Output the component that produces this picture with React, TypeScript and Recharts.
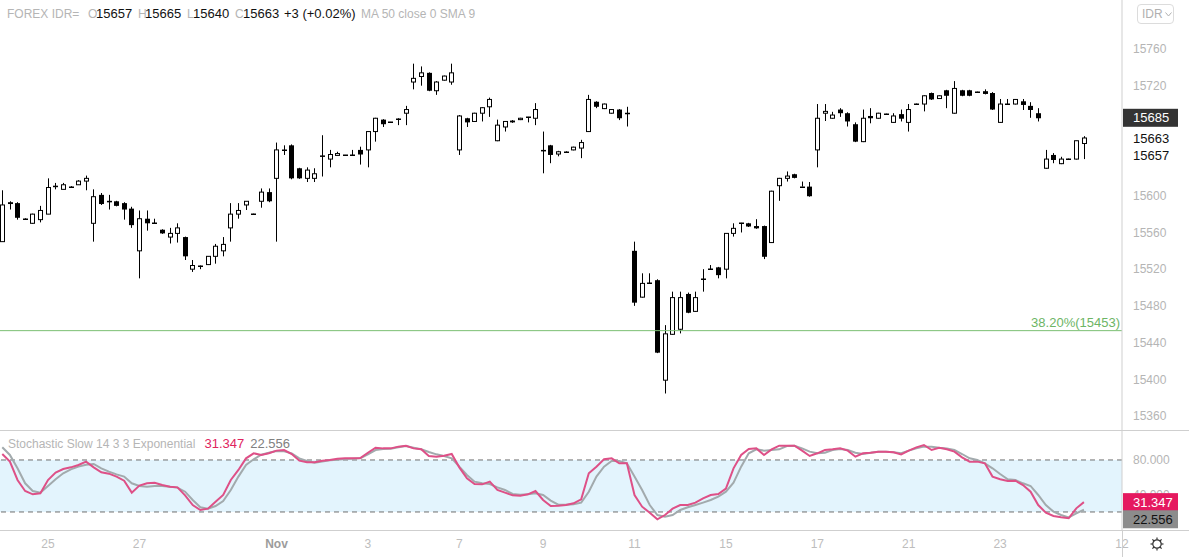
import { ComposedChart, Bar, Line, XAxis, YAxis, ReferenceLine, ReferenceArea } from 'recharts';

// 4h candles, USD/IDR, late Oct - Nov
const opens = [
  15550, 15593, 15592, 15575, 15570, 15574, 15580, 15611, 15607, 15610, 15612, 15616, 15570, 15601, 15594.5, 15594,
  15592, 15586, 15540, 15575, 15570, 15563, 15555, 15559, 15555, 15520, 15523.5, 15525, 15534, 15540, 15565, 15580,
  15590, 15580, 15594, 15604, 15619, 15650, 15655, 15630, 15619, 15619, 15644, 15640, 15644, 15644, 15644.5, 15650,
  15650, 15670, 15683, 15680, 15684, 15690, 15724, 15730, 15734, 15714.5, 15726, 15724, 15650, 15684.5, 15681, 15690,
  15697, 15660, 15675, 15682, 15683, 15685.5, 15684.5, 15650, 15655, 15645.5, 15648, 15650, 15652, 15670, 15702.5, 15695,
  15690, 15694, 15690.5, 15540, 15489.5, 15504.5, 15508, 15399, 15449, 15454.5, 15493, 15474, 15509, 15520, 15522, 15520,
  15559, 15570, 15570, 15567, 15567, 15549, 15611, 15619, 15623.5, 15610, 15610, 15650, 15690, 15684.5, 15694, 15690,
  15678, 15659, 15687, 15684.5, 15689, 15680, 15689, 15680, 15700, 15700, 15712, 15706, 15715, 15690, 15715, 15715,
  15713, 15714, 15712, 15680, 15700, 15700, 15703, 15698, 15690, 15630, 15644.5, 15635, 15640, 15640, 15657,
];
const highs = [
  15606, 15594, 15593, 15575.5, 15580.5, 15589, 15619, 15614, 15614, 15610.5, 15617, 15622, 15607, 15603, 15601, 15594.5,
  15593, 15588, 15584, 15584, 15575, 15563.5, 15565, 15570, 15555.5, 15530, 15524, 15534, 15547.5, 15555, 15592, 15592,
  15594, 15580.5, 15608, 15608, 15658, 15655, 15656, 15630.5, 15631, 15630, 15666, 15650, 15648, 15644.5, 15650, 15653.5,
  15670, 15685, 15683.5, 15680.5, 15684.5, 15698, 15744, 15741, 15734.5, 15725, 15731, 15744, 15688, 15685, 15690.5, 15696.5,
  15707, 15683, 15681, 15682.5, 15685, 15686, 15701, 15670, 15655.5, 15649, 15648.5, 15653.5, 15661, 15710, 15703, 15700.5,
  15694.5, 15694.5, 15697, 15550, 15515.5, 15515.5, 15509, 15459, 15495.5, 15495.5, 15494.5, 15495.5, 15520, 15524.5, 15522.5, 15559,
  15570, 15570.5, 15570.5, 15574.5, 15567.5, 15605.5, 15619.5, 15626.5, 15624, 15615.5, 15615, 15700, 15700, 15691.5, 15695.5, 15691,
  15680, 15694, 15695.5, 15690.5, 15689.5, 15690, 15694, 15700, 15700.5, 15709.5, 15712.5, 15709.5, 15715.5, 15725, 15715.5, 15715.5,
  15713.5, 15716, 15713, 15705.5, 15705.5, 15705.5, 15705.5, 15702, 15695.5, 15650, 15646.5, 15642.5, 15640.5, 15660, 15665,
];
const lows = [
  15550, 15585, 15574, 15574.5, 15569.5, 15571, 15580, 15607, 15607, 15609.5, 15612, 15606, 15550, 15590, 15585, 15588.5,
  15574, 15565, 15510, 15562, 15570, 15558.5, 15548, 15549, 15530, 15517, 15520, 15524.5, 15526, 15534, 15550, 15575,
  15584.5, 15579.5, 15587, 15593, 15550, 15644.5, 15618, 15618.5, 15615, 15615, 15621, 15631, 15643.5, 15643.5, 15644, 15634,
  15631, 15659, 15675, 15679.5, 15677, 15677, 15716, 15720, 15714, 15710, 15725.5, 15721, 15644.5, 15675, 15680.5, 15681,
  15686, 15659.5, 15670, 15679.5, 15682.5, 15680, 15677, 15624.5, 15635.5, 15643, 15647.5, 15649.5, 15641, 15669.5, 15695.5, 15694.5,
  15689.5, 15682.5, 15675.5, 15480, 15489, 15504, 15428.5, 15384.5, 15448.5, 15450, 15472, 15473.5, 15495.5, 15519.5, 15510, 15510,
  15555.5, 15560, 15566, 15564, 15531, 15548.5, 15594.5, 15615.5, 15619, 15610, 15599, 15631, 15681.5, 15684, 15686, 15675.5,
  15658.5, 15658.5, 15679, 15684, 15688.5, 15679.5, 15681, 15670, 15699, 15692, 15704.5, 15705.5, 15695.5, 15689.5, 15708.5, 15708.5,
  15712.5, 15710.5, 15693.5, 15679.5, 15699.5, 15699.5, 15693.5, 15685, 15681, 15629.5, 15635.5, 15634.5, 15639.5, 15639.5, 15640,
];
const closes = [
  15590, 15591, 15576, 15575, 15580, 15584, 15609, 15610, 15612, 15610, 15616, 15619, 15599, 15591, 15594, 15589,
  15585, 15568, 15575, 15570, 15570, 15559, 15559, 15565, 15534, 15524, 15523.5, 15534, 15545, 15547, 15580, 15584,
  15594, 15580, 15604, 15594, 15650, 15650, 15619, 15619, 15628, 15624, 15643, 15645, 15646, 15644, 15644.5, 15645,
  15670, 15684.5, 15678, 15680, 15684, 15694, 15728, 15734, 15714.5, 15724, 15730.5, 15734, 15687, 15680, 15690, 15696,
  15705, 15677, 15681, 15680, 15684.5, 15685.5, 15694, 15649.5, 15644.5, 15648, 15648, 15653, 15658, 15705, 15697, 15700,
  15694, 15684.5, 15690, 15483.5, 15504.5, 15504.5, 15429, 15449.5, 15489, 15489, 15472.5, 15489, 15509, 15520, 15513.5, 15559,
  15564.5, 15570, 15566.5, 15564.5, 15533.5, 15605, 15619, 15621.5, 15619.5, 15610, 15599.5, 15684.5, 15692, 15688, 15690, 15681,
  15659, 15684.5, 15684.5, 15690, 15689, 15687, 15684, 15694, 15700, 15709, 15705, 15709, 15709, 15717, 15709, 15709,
  15713, 15711, 15694, 15700, 15700, 15705, 15699, 15693.5, 15684.5, 15640, 15639, 15640, 15640, 15660, 15663,
];

// Stochastic Slow 14 3 3 Exponential
const stochK = [
  86.9, 78.1, 56.9, 44.2, 40.4, 41.5, 56.9, 65.4, 69.6, 71.5, 74.2, 78.1, 71.5, 65.8, 64.2, 60.8,
  56.1, 42.3, 50.4, 53.1, 53.8, 51.1, 49.2, 48.4, 39.2, 28.0, 22.3, 23.8, 31.9, 39.6, 56.9, 68.5,
  81.9, 87.7, 85.8, 87.7, 90.8, 91.5, 86.9, 79.2, 77.3, 77.3, 79.2, 80.0, 81.5, 81.9, 81.9, 82.3,
  88.4, 94.2, 93.4, 93.4, 95.4, 96.5, 93.4, 92.3, 84.6, 83.8, 85.0, 86.9, 71.5, 58.8, 52.3, 51.9,
  55.0, 45.4, 42.3, 39.2, 38.8, 40.4, 44.2, 33.8, 26.9, 27.3, 28.0, 30.0, 34.6, 64.6, 72.3, 80.8,
  81.9, 76.1, 76.1, 39.6, 26.1, 19.2, 11.5, 16.5, 23.8, 28.0, 28.0, 30.8, 35.8, 39.6, 40.8, 46.9,
  70.4, 85.8, 92.7, 93.4, 85.8, 92.3, 96.5, 96.5, 96.5, 90.8, 84.6, 87.7, 91.5, 92.3, 93.4, 90.8,
  83.8, 87.7, 88.4, 89.6, 89.6, 88.8, 86.5, 90.8, 94.6, 97.3, 91.5, 94.2, 92.3, 89.6, 83.1, 78.1,
  78.1, 76.1, 60.8, 57.7, 55.8, 56.1, 51.1, 43.4, 28.0, 19.2, 15.4, 13.8, 12.7, 24.2, 31.347,
];
const stochD = [
  94.6, 85.8, 70.4, 53.1, 44.2, 42.3, 50.0, 57.7, 64.6, 69.2, 72.3, 74.6, 75.4, 70.4, 66.5, 63.4,
  60.8, 53.1, 50.0, 49.2, 50.0, 50.0, 49.2, 48.1, 43.4, 33.8, 25.4, 23.8, 26.9, 32.7, 45.4, 60.8,
  74.2, 80.8, 86.1, 88.4, 90.4, 90.0, 87.7, 81.9, 78.8, 76.9, 78.1, 79.6, 80.4, 81.1, 81.5, 81.9,
  86.5, 91.5, 92.7, 93.1, 94.6, 96.1, 94.2, 92.3, 89.2, 86.5, 84.6, 81.9, 72.3, 62.7, 55.0, 53.1,
  52.3, 48.4, 45.4, 40.8, 40.0, 40.4, 41.5, 39.6, 33.1, 28.4, 28.4, 28.8, 30.8, 43.4, 60.8, 72.3,
  78.8, 78.8, 76.1, 60.8, 45.4, 28.0, 16.5, 14.6, 16.5, 22.3, 25.4, 28.0, 30.8, 33.8, 37.7, 43.4,
  53.8, 72.3, 87.7, 92.3, 90.8, 91.5, 92.3, 96.1, 96.5, 93.4, 89.6, 87.7, 88.4, 91.5, 92.7, 91.5,
  88.4, 86.9, 88.4, 89.6, 89.6, 88.8, 87.7, 90.8, 93.4, 95.4, 95.4, 94.2, 93.4, 91.5, 86.9, 81.9,
  80.0, 76.1, 70.4, 63.8, 57.7, 56.9, 53.1, 50.0, 39.6, 28.0, 20.4, 16.5, 13.8, 18.5, 22.556,
];

const dateTicks = [6, 18, 36, 48, 60, 71, 83, 95, 107, 119, 131, 147];
const dateLabels = ['25', '27', 'Nov', '3', '7', '9', '11', '15', '17', '21', '23', '12'];
const priceTicks = [15360, 15400, 15440, 15480, 15520, 15560, 15600, 15720, 15760];
const stochTicks = [40, 80];
const stochBand = [20, 80];
const fibLevel = 15453;
const fibText = '38.20%(15453)';
const maLast = 15685;
const closeLast = 15663;
const openLast = 15657;

const rows = opens.map((o, i) => ({
  i,
  o,
  h: highs[i],
  l: lows[i],
  c: closes[i],
  k: stochK[i],
  d: stochD[i],
}));

const X_DOMAIN = [-0.3, 147];
const PRICE_DOMAIN = [15344.7, 15813.4];
const STOCH_DOMAIN = [-0.8, 114.6];
const FONT = '"Liberation Sans", Arial, sans-serif';
const GREY = '#b5b5b5';
const AXIS = '#cfcfcf';

const Candle = (props: any) => {
  const { x, y, width, height, payload } = props;
  if (x == null || y == null) return null;
  const { o, h, l, c } = payload;
  const top = height >= 0 ? y : y + height;
  const span = Math.abs(height);
  const k = span / (h - l);
  const py = (p: number) => top + (h - p) * k;
  const cx = Math.round(x + width / 2);
  const bTop = py(Math.max(o, c));
  const bBot = py(Math.min(o, c));
  const up = c > o;
  const flat = o === c;
  return (
    <g>
      <line x1={cx + 0.5} x2={cx + 0.5} y1={top} y2={top + span} stroke="#000" strokeWidth={1} />
      {flat ? (
        <rect x={cx - 2} y={Math.round(bTop) - 0.5} width={5} height={1.5} fill="#000" />
      ) : up ? (
        <rect x={cx - 1.5} y={bTop} width={4} height={Math.max(bBot - bTop, 1)} fill="#fff" stroke="#000" strokeWidth={1} />
      ) : (
        <rect x={cx - 2} y={bTop} width={5} height={Math.max(bBot - bTop, 1.5)} fill="#000" />
      )}
    </g>
  );
};

const AxisTag = ({ viewBox, text, bg, fg, dy = 0 }: any) => {
  if (!viewBox) return null;
  const x0 = viewBox.x + viewBox.width;
  const yc = viewBox.y + dy;
  return (
    <g>
      {bg && <rect x={x0 + 1} y={yc - 9} width={55} height={18} fill={bg} />}
      <text x={x0 + 11} y={yc} dy="0.36em" fill={fg} fontSize={13} fontFamily={FONT}>
        {text}
      </text>
    </g>
  );
};

const FibLabel = ({ viewBox }: any) => {
  if (!viewBox) return null;
  return (
    <text x={viewBox.x + viewBox.width - 2} y={viewBox.y - 4} textAnchor="end" fill="#6db565" fontSize={13} fontFamily={FONT}>
      {fibText}
    </text>
  );
};

const DateTick = ({ x, y, payload }: any) => {
  const label = dateLabels[dateTicks.indexOf(payload.value)];
  const strong = label === 'Nov';
  return (
    <text
      x={x}
      y={y}
      dy="0.71em"
      textAnchor="middle"
      fill={strong ? '#9c9c9c' : '#bdbdbd'}
      fontWeight={strong ? 700 : 400}
      fontSize={12}
      fontFamily={FONT}
    >
      {label}
    </text>
  );
};

const Gear = () => (
  <svg width={16} height={16} viewBox="0 0 16 16">
    <circle cx={8} cy={8} r={4.2} fill="none" stroke="#333" strokeWidth={1.2} />
    {[0, 45, 90, 135, 180, 225, 270, 315].map((a) => (
      <line
        key={a}
        x1={8 + 4.2 * Math.cos((a * Math.PI) / 180)}
        y1={8 + 4.2 * Math.sin((a * Math.PI) / 180)}
        x2={8 + 6.5 * Math.cos((a * Math.PI) / 180)}
        y2={8 + 6.5 * Math.sin((a * Math.PI) / 180)}
        stroke="#333"
        strokeWidth={1.2}
      />
    ))}
  </svg>
);

const hdr = (left: number, text: string, color: string, size = 12) => (
  <span style={{ position: 'absolute', left, top: 6, fontSize: size, color, whiteSpace: 'nowrap', lineHeight: '16px' }}>{text}</span>
);

export default function App() {
  const kLast = stochK[stochK.length - 1];
  const dLast = stochD[stochD.length - 1];
  return (
    <div style={{ position: 'relative', width: 1189, height: 557, background: '#fff', fontFamily: FONT, overflow: 'hidden' }}>
      <style>{'body{margin:0}'}</style>

      <ComposedChart width={1189} height={430} data={rows} margin={{ top: 0, right: 0, bottom: 0, left: 0 }}>
        <XAxis type="number" dataKey="i" domain={X_DOMAIN} allowDataOverflow hide />
        <YAxis
          orientation="right"
          width={67}
          type="number"
          domain={PRICE_DOMAIN}
          allowDataOverflow
          ticks={priceTicks}
          interval={0}
          tickLine={false}
          tickSize={0}
          tickMargin={11}
          axisLine={{ stroke: AXIS }}
          tick={{ fill: GREY, fontSize: 12, fontFamily: FONT, textAnchor: 'start' }}
        />
        <ReferenceLine y={fibLevel} stroke="#7cbf74" strokeWidth={1} label={<FibLabel />} />
        <Bar dataKey={(d: any) => [d.l, d.h]} barSize={5} shape={<Candle />} isAnimationActive={false} />
        <ReferenceLine y={maLast} stroke="none" label={<AxisTag text={String(maLast)} bg="#333333" fg="#fff" />} />
        <ReferenceLine y={closeLast} stroke="none" label={<AxisTag text={String(closeLast)} fg="#111" />} />
        <ReferenceLine y={openLast} stroke="none" label={<AxisTag text={String(openLast)} fg="#111" dy={11.5} />} />
      </ComposedChart>

      <div style={{ position: 'absolute', left: 0, top: 430, width: 1189, height: 1, background: AXIS }} />

      <div style={{ position: 'absolute', left: 0, top: 430 }}>
        <ComposedChart width={1189} height={127} data={rows} margin={{ top: 0, right: 0, bottom: 0, left: 0 }}>
          <XAxis
            type="number"
            dataKey="i"
            domain={X_DOMAIN}
            allowDataOverflow
            ticks={dateTicks}
            interval={0}
            height={27}
            axisLine={false}
            tickLine={false}
            tickSize={0}
            tickMargin={9}
            tick={<DateTick />}
          />
          <YAxis
            orientation="right"
            width={67}
            type="number"
            domain={STOCH_DOMAIN}
            allowDataOverflow
            ticks={stochTicks}
            interval={0}
            tickFormatter={(v: number) => v.toFixed(3)}
            tickLine={false}
            tickSize={0}
            tickMargin={11}
            axisLine={{ stroke: AXIS }}
            tick={{ fill: GREY, fontSize: 12, fontFamily: FONT, textAnchor: 'start' }}
          />
          <ReferenceArea y1={stochBand[0]} y2={stochBand[1]} fill="#e3f4fd" fillOpacity={1} stroke="none" />
          <ReferenceLine y={stochBand[1]} stroke="#6f6f6f" strokeDasharray="5 4" />
          <ReferenceLine y={stochBand[0]} stroke="#6f6f6f" strokeDasharray="5 4" />
          <Line type="linear" dataKey="d" stroke="#a2aaad" strokeWidth={2} dot={false} isAnimationActive={false} />
          <Line type="linear" dataKey="k" stroke="#de5087" strokeWidth={2} dot={false} isAnimationActive={false} />
        </ComposedChart>
      </div>

      {/* last-value tags of the stochastic, drawn above its axis labels */}
      <div style={{ position: 'absolute', left: 0, top: 430, pointerEvents: 'none' }}>
        <ComposedChart width={1189} height={127} data={rows} margin={{ top: 0, right: 67, bottom: 27, left: 0 }}>
          <XAxis type="number" dataKey="i" domain={X_DOMAIN} allowDataOverflow hide />
          <YAxis type="number" domain={STOCH_DOMAIN} allowDataOverflow hide />
          <ReferenceLine y={kLast} stroke="none" label={<AxisTag text={kLast.toFixed(3)} bg="#e5195f" fg="#fff" />} />
          <ReferenceLine y={dLast} stroke="none" label={<AxisTag text={dLast.toFixed(3)} bg="#8c8c8c" fg="#111" dy={9.5} />} />
        </ComposedChart>
      </div>

      <div style={{ position: 'absolute', left: 0, top: 530, width: 1189, height: 1, background: AXIS }} />
      <div style={{ position: 'absolute', left: 1122, top: 530, width: 1, height: 27, background: AXIS }} />

      {/* header legends */}
      {hdr(7, 'FOREX IDR=', GREY)}
      {hdr(88, 'O', GREY)}
      {hdr(96, '15657', '#111', 13)}
      {hdr(138, 'H', GREY)}
      {hdr(145, '15665', '#111', 13)}
      {hdr(187, 'L', GREY)}
      {hdr(193, '15640', '#111', 13)}
      {hdr(235, 'C', GREY)}
      {hdr(243, '15663', '#111', 13)}
      {hdr(284, '+3 (+0.02%)', '#111', 13)}
      {hdr(361, 'MA 50 close 0 SMA 9', GREY)}

      <div style={{ position: 'absolute', left: 8, top: 436, fontSize: 12, whiteSpace: 'nowrap', lineHeight: '16px' }}>
        <span style={{ color: GREY }}>Stochastic Slow 14 3 3 Exponential</span>
        <span style={{ color: '#e0245e', fontSize: 13, marginLeft: 9 }}>{kLast.toFixed(3)}</span>
        <span style={{ color: '#808080', fontSize: 13, marginLeft: 6 }}>{dLast.toFixed(3)}</span>
      </div>

      <div
        style={{
          position: 'absolute',
          left: 1137,
          top: 4,
          width: 37,
          height: 20,
          border: '1px solid #dcdcdc',
          borderRadius: 4,
          boxSizing: 'border-box',
          color: '#b0b0b0',
          fontSize: 12,
          lineHeight: '18px',
          paddingLeft: 4,
        }}
      >
        IDR
        <svg width={7} height={5} style={{ marginLeft: 2, verticalAlign: 'middle' }}>
          <path d="M0.5 0.5 L3.5 4 L6.5 0.5" fill="none" stroke="#b0b0b0" strokeWidth={1} />
        </svg>
      </div>

      <div style={{ position: 'absolute', left: 1149, top: 536 }}>
        <Gear />
      </div>
    </div>
  );
}
